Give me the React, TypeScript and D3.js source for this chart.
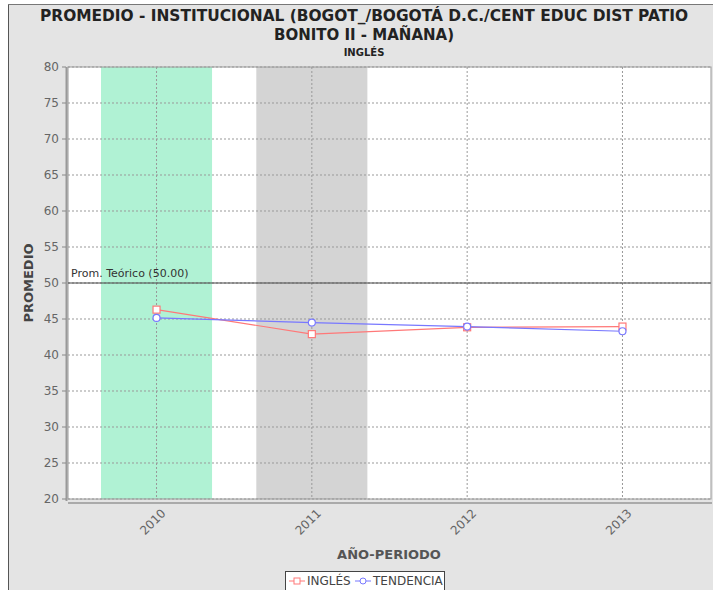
import React from "react";
import * as d3 from "d3";

const categories = ["2010", "2011", "2012", "2013"];
const ingles = [46.3, 42.9, 43.85, 43.95];
const tendencia = [45.15, 44.5, 43.95, 43.3];
const yTicks = [20, 25, 30, 35, 40, 45, 50, 55, 60, 65, 70, 75, 80];
const highlightBands = [
  { cat: "2010", color: "#b0f2d4" },
  { cat: "2011", color: "#d4d4d4" },
];
const threshold = 50;
const thresholdLabel = "Prom. Teórico (50.00)";
const titleLines = [
  "PROMEDIO - INSTITUCIONAL (BOGOT_/BOGOTÁ D.C./CENT EDUC DIST PATIO",
  "BONITO II - MAÑANA)",
];
const subtitle = "INGLÉS";
const xLabel = "AÑO-PERIODO";
const yLabel = "PROMEDIO";
const legendItems = ["INGLÉS", "TENDENCIA"];

export default function App() {
  const W = 713,
    H = 590;
  const left = 68,
    right = 711,
    top = 67,
    bottom = 499;
  const x = d3.scalePoint<string>().domain(categories).range([left, right]).padding(0.57);
  const step = x.step();
  const y = d3.scaleLinear().domain([20, 80]).range([bottom, top]);
  const font = "'DejaVu Sans', sans-serif";
  const lineGen = d3
    .line<number>()
    .x((_, i) => x(categories[i]) as number)
    .y((d) => y(d));
  const red = "#ff7878";
  const blue = "#7878ff";
  const bandW = step * 0.715;

  return (
    <svg
      width={W}
      height={H}
      style={{ position: "absolute", left: 0, top: 0, background: "#fff" }}
    >
      <rect x={8} y={4} width={W - 8} height={H - 4} fill="#e4e4e4" />
      <line x1={8.5} y1={4} x2={8.5} y2={H} stroke="#555" />
      <line x1={8} y1={4.5} x2={W} y2={4.5} stroke="#777" />

      {/* Titles */}
      <text
        x={364}
        y={21}
        textAnchor="middle"
        fontFamily={font}
        fontWeight="bold"
        fontSize={15}
        fill="#222"
        textLength={648}
        lengthAdjust="spacingAndGlyphs"
      >
        {titleLines[0]}
      </text>
      <text x={364} y={40} textAnchor="middle" fontFamily={font} fontWeight="bold" fontSize={15} fill="#222">
        {titleLines[1]}
      </text>
      <text x={364} y={56} textAnchor="middle" fontFamily={font} fontWeight="bold" fontSize={10} fill="#222">
        {subtitle}
      </text>

      {/* Plot background */}
      <rect x={left} y={top} width={right - left} height={bottom - top} fill="#fff" />
      {highlightBands.map((b) => (
        <rect
          key={b.cat}
          x={(x(b.cat) as number) - bandW / 2}
          y={top}
          width={bandW}
          height={bottom - top}
          fill={b.color}
        />
      ))}

      {/* Grid */}
      {yTicks.map((t) => (
        <line
          key={"g" + t}
          x1={left}
          x2={right}
          y1={y(t)}
          y2={y(t)}
          stroke="#999"
          strokeDasharray="2,2"
          strokeWidth={1}
        />
      ))}
      {categories.map((c) => (
        <line
          key={"v" + c}
          x1={x(c)}
          x2={x(c)}
          y1={top}
          y2={bottom}
          stroke="#999"
          strokeDasharray="2,2"
        />
      ))}
      <rect x={left} y={top} width={right - left} height={bottom - top} fill="none" stroke="#999" />

      {/* Threshold */}
      <line x1={left} x2={right} y1={y(threshold)} y2={y(threshold)} stroke="#444" strokeWidth={1} />
      <text x={71} y={y(threshold) - 6} fontFamily={font} fontSize={11} fill="#333">
        {thresholdLabel}
      </text>

      {/* Axes */}
      <line x1={66.5} x2={66.5} y1={top} y2={bottom + 2} stroke="#999" strokeWidth={2} />
      <line x1={left} x2={right + 1} y1={503} y2={503} stroke="#aaa" strokeWidth={2} />
      {yTicks.map((t) => (
        <g key={"t" + t}>
          <line x1={62} x2={66} y1={y(t)} y2={y(t)} stroke="#888" />
          <text
            x={59}
            y={y(t)}
            dy="0.35em"
            textAnchor="end"
            fontFamily={font}
            fontSize={12}
            fill="#666"
          >
            {t}
          </text>
        </g>
      ))}
      {categories.map((c) => (
        <text
          key={"xl" + c}
          transform={`translate(${(x(c) as number) + 7},${511}) rotate(-45)`}
          textAnchor="end"
          dy="0.35em"
          fontFamily={font}
          fontSize={12}
          fill="#666"
        >
          {c}
        </text>
      ))}
      <text x={389} y={559} textAnchor="middle" fontFamily={font} fontWeight="bold" fontSize={13} fill="#555">
        {xLabel}
      </text>
      <text
        transform={`translate(33,${y(50)}) rotate(-90)`}
        textAnchor="middle"
        fontFamily={font}
        fontWeight="bold"
        fontSize={13}
        fill="#444"
      >
        {yLabel}
      </text>

      {/* Series */}
      <path d={lineGen(ingles) || ""} fill="none" stroke={red} strokeWidth={1.2} />
      <path d={lineGen(tendencia) || ""} fill="none" stroke={blue} strokeWidth={1.2} />
      {ingles.map((v, i) => (
        <rect
          key={"s" + i}
          x={(x(categories[i]) as number) - 3.5}
          y={y(v) - 3.5}
          width={7}
          height={7}
          fill="#fff"
          stroke={red}
          strokeWidth={1.2}
        />
      ))}
      {tendencia.map((v, i) => (
        <circle
          key={"c" + i}
          cx={x(categories[i]) as number}
          cy={y(v)}
          r={3.5}
          fill="#fff"
          stroke={blue}
          strokeWidth={1.2}
        />
      ))}

      {/* Legend */}
      <rect x={285.5} y={571.5} width={159} height={24} fill="#fff" stroke="#444" />
      <line x1={289} x2={305} y1={581} y2={581} stroke={red} />
      <rect x={294} y={578} width={6} height={6} fill="#fff" stroke={red} />
      <text x={307} y={585} fontFamily={font} fontSize={12} fill="#444">
        {legendItems[0]}
      </text>
      <line x1={355} x2={371} y1={581} y2={581} stroke={blue} />
      <circle cx={363} cy={581} r={3} fill="#fff" stroke={blue} />
      <text x={373} y={585} fontFamily={font} fontSize={12} fill="#444">
        {legendItems[1]}
      </text>
    </svg>
  );
}
